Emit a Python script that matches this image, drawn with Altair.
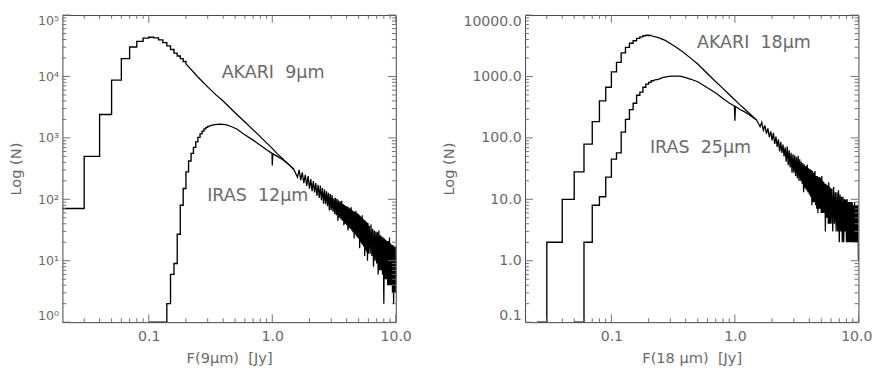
import altair as alt
import pandas as pd

# ---------------- data ----------------
# Left panel: AKARI 9um histogram, low-flux bins (bin left edges, counts)
a9_edge = [0.02, 0.03, 0.04, 0.05, 0.06, 0.07, 0.08, 0.09, 0.10, 0.11,
           0.12, 0.13, 0.14, 0.15, 0.16, 0.17, 0.18, 0.19, 0.20]
a9_count = [71, 500, 2400, 8700, 19500, 30200, 37300, 42100, 43500, 42500,
            39500, 35500, 31500, 27500, 24000, 21500, 19500, 17500, 16000]
# AKARI 9um, smooth part
a9_x = [0.20, 0.25, 0.30, 0.35, 0.40, 0.45, 0.50, 0.60, 0.70, 0.80, 0.90,
        1.00, 1.10, 1.20, 1.30, 1.40, 1.50]
a9_n = [16000, 9800, 6760, 5010, 3980, 3160, 2570, 1820, 1350, 1050, 830,
        676, 550, 468, 398, 347, 302]
# IRAS 12um histogram, low-flux bins
i12_edge = [0.10, 0.14, 0.15, 0.16, 0.17, 0.18, 0.19, 0.20, 0.21, 0.22,
            0.23, 0.24, 0.25, 0.26, 0.27, 0.28, 0.29, 0.30, 0.31]
i12_count = [1, 2, 6, 9, 27, 80, 150, 280, 420, 560,
             700, 860, 1020, 1160, 1290, 1400, 1480, 1540, 1570]
# IRAS 12um smooth part
i12_x = [0.31, 0.34, 0.38, 0.42, 0.47, 0.52, 0.59, 0.70, 0.80, 0.90, 0.98,
         0.995, 1.0, 1.01, 1.10, 1.20, 1.30, 1.40, 1.50]
i12_n = [1570, 1650, 1680, 1640, 1520, 1380, 1150, 920, 760, 640, 570,
         560, 355, 550, 500, 450, 400, 350, 310]

# noisy tail (both surveys merged), 1.6 .. 10.0 Jy
tail_x = [1.60, 1.65, 1.70, 1.75, 1.80, 1.85, 1.90, 1.95, 2.00, 2.05,
          2.10, 2.15, 2.20, 2.25, 2.30, 2.35, 2.40, 2.45, 2.50, 2.55,
          2.60, 2.65, 2.70, 2.75, 2.80, 2.85, 2.90, 2.95, 3.00, 3.05,
          3.10, 3.15, 3.20, 3.25, 3.30, 3.35, 3.40, 3.45, 3.50, 3.55,
          3.60, 3.65, 3.70, 3.75, 3.80, 3.85, 3.90, 3.95, 4.00, 4.05,
          4.10, 4.15, 4.20, 4.25, 4.30, 4.35, 4.40, 4.45, 4.50, 4.55,
          4.60, 4.65, 4.70, 4.75, 4.80, 4.85, 4.90, 4.95, 5.00, 5.05,
          5.10, 5.15, 5.20, 5.25, 5.30, 5.35, 5.40, 5.45, 5.50, 5.55,
          5.60, 5.65, 5.70, 5.75, 5.80, 5.85, 5.90, 5.95, 6.00,
          6.1, 6.2, 6.3, 6.4, 6.5, 6.6, 6.7, 6.8, 6.9, 7.0,
          7.1, 7.2, 7.3, 7.4, 7.5, 7.6, 7.7, 7.8, 7.9, 8.0,
          8.1, 8.2, 8.3, 8.4, 8.5, 8.6, 8.7, 8.8, 8.9, 9.0,
          9.1, 9.2, 9.3, 9.4, 9.5, 9.6, 9.7, 9.8, 9.9, 10.0]
tail9_n = [228, 301, 205, 275, 184, 250, 165, 240, 149, 213,
           136, 198, 130, 184, 114, 173, 105, 167, 97, 153,
           85, 144, 83, 135, 77, 128, 66, 122, 67, 117,
           63, 104, 58, 106, 55, 101, 45, 96, 50, 92,
           47, 95, 45, 84, 38, 81, 40, 78, 38, 76,
           31, 74, 34, 71, 33, 74, 31, 66, 29, 64,
           23, 63, 27, 65, 25, 60, 24, 58, 23, 56,
           16, 54, 20, 51, 19, 55, 18, 48, 17, 46,
           12, 45, 15, 43, 14, 42, 10, 41, 13,
           37, 13, 39, 12, 33, 8, 31, 10, 30, 9,
           29, 6, 31, 7, 26, 7, 25, 6, 24, 2,
           23, 5, 22, 5, 21, 4, 21, 4, 24, 4,
           19, 4, 18, 3, 18, 2, 17, 3, 17, 3]

# Right panel: AKARI 18um
a18_edge = [0.025, 0.03, 0.04, 0.05, 0.06, 0.07, 0.08, 0.09, 0.10, 0.11,
            0.12, 0.13, 0.14, 0.15, 0.16, 0.17, 0.18, 0.19, 0.20, 0.21]
a18_count = [0.1, 2, 10, 28, 79, 184, 400, 667, 1190, 1700,
             2420, 2970, 3470, 3820, 4170, 4420, 4600, 4680, 4650, 4600]
a18_x = [0.21, 0.24, 0.27, 0.30, 0.33, 0.38, 0.44, 0.50, 0.59, 0.70, 0.80,
         0.90, 1.00, 1.10, 1.20, 1.30, 1.40, 1.50]
a18_n = [4600, 4300, 3900, 3450, 3050, 2500, 1970, 1600, 1150, 820, 640,
         510, 415, 345, 295, 255, 222, 195]
# IRAS 25um
i25_edge = [0.05, 0.06, 0.07, 0.08, 0.09, 0.10, 0.11, 0.12, 0.13, 0.14,
            0.15, 0.16, 0.17, 0.18, 0.19, 0.20, 0.21, 0.22]
i25_count = [0.1, 2, 8, 11, 23, 45, 57, 124, 200, 288,
             366, 494, 557, 667, 752, 800, 850, 870]
i25_x = [0.22, 0.24, 0.26, 0.29, 0.32, 0.36, 0.40, 0.44, 0.50, 0.59, 0.70,
         0.80, 0.90, 0.99, 1.0, 1.01, 1.10, 1.20, 1.30, 1.40, 1.50]
i25_n = [870, 900, 960, 1000, 1015, 1010, 960, 900, 820, 667, 540,
         437, 370, 330, 190, 325, 290, 265, 240, 215, 195]
tail18_n = [152, 179, 133, 159, 117, 143, 103, 128, 91, 121,
            80, 105, 71, 95, 60, 86, 57, 78, 50, 70,
            41, 72, 36, 63, 33, 57, 27, 54, 27, 52,
            24, 49, 22, 51, 20, 45, 20, 41, 18, 39,
            13, 37, 15, 35, 14, 37, 13, 32, 12, 31,
            11, 30, 8, 29, 9, 27, 9, 29, 8, 24,
            7, 24, 6, 23, 7, 23, 7, 22, 6, 24,
            6, 20, 6, 19, 6, 18, 3, 18, 5, 17,
            5, 17, 4, 19, 4, 16, 4, 15, 4,
            15, 3, 16, 4, 13, 3, 13, 3, 14, 2,
            12, 3, 11, 2, 11, 2, 10, 3, 10, 2,
            10, 2, 9, 2, 9, 2, 9, 2, 9, 2,
            8, 2, 9, 2, 8, 2, 8, 2, 8, 1]

# axis ticks
x_major = [0.1, 1.0, 10.0]
x_minor = [m * d for d in (0.01, 0.1, 1.0) for m in range(2, 10) if m * d > 0.021]
yl_major = [1, 10, 100, 1000, 10000, 100000]
yl_minor = [m * d for d in (1, 10, 100, 1000, 10000) for m in range(2, 10)]
yr_major = [0.1, 1, 10, 100, 1000, 10000]
yr_minor = [m * d for d in (0.1, 1, 10, 100, 1000) for m in range(2, 10)]

# annotations
left_text = ["AKARI\u00a0 9\u03bcm", "IRAS\u00a0 12\u03bcm"]
right_text = ["AKARI\u00a0 18\u03bcm", "IRAS\u00a0 25\u03bcm"]

# ---------------- chart ----------------
W, H = 343, 316
FONT = "DejaVu Sans"
TXT = "#6a6a6a"
TICK = "#707070"
MAJ, MIN = 8, 4


def frame(series):
    rows = []
    for name, xs, ns in series:
        for x, n in zip(xs, ns):
            rows.append({"x": x, "n": n, "s": name})
    return pd.DataFrame(rows)


def panel(step_series, line_series, y_domain, y_major, y_minor, y_label_kw,
          x_title, texts, text_x, text_y, flush_off):
    xs = alt.Scale(type="log", domain=[0.02, 10.0], nice=False)
    ys = alt.Scale(type="log", domain=y_domain, nice=False)
    xaxis = alt.Axis(values=x_major, format=".1f", title=x_title, ticks=False,
                     domain=False, grid=False, labelFlush=True,
                     labelFlushOffset=flush_off, labelPadding=8,
                     titlePadding=8, labelFontSize=14.5, titleFontSize=15)
    yaxis = alt.Axis(values=y_major, title="Log (N)", ticks=False,
                     domain=False, grid=False, labelFlush=True,
                     labelPadding=4, titleFontSize=15, **y_label_kw)

    def X(f):
        return alt.X(f, scale=xs, axis=xaxis)

    def Y(f):
        return alt.Y(f, scale=ys, axis=yaxis)

    steps = alt.Chart(frame(step_series)).mark_line(
        interpolate="step-after", color="black", strokeWidth=1.4, clip=True
    ).encode(x=X("x:Q"), y=Y("n:Q"), detail="s:N")
    lines = alt.Chart(frame(line_series)).mark_line(
        color="black", strokeWidth=1.3, clip=True
    ).encode(x=X("x:Q"), y=Y("n:Q"), detail="s:N")

    layers = [steps, lines]
    for vals, size in ((x_major, MAJ), (x_minor, MIN)):
        d = pd.DataFrame({"v": vals})
        layers.append(alt.Chart(d).mark_rule(color=TICK, strokeWidth=1).encode(
            x=X("v:Q"), y=alt.value(H), y2=alt.value(H - size)))
        layers.append(alt.Chart(d).mark_rule(color=TICK, strokeWidth=1).encode(
            x=X("v:Q"), y=alt.value(0), y2=alt.value(size)))
    for vals, size in ((y_major, MAJ), (y_minor, MIN)):
        d = pd.DataFrame({"v": vals})
        layers.append(alt.Chart(d).mark_rule(color=TICK, strokeWidth=1).encode(
            y=Y("v:Q"), x=alt.value(0), x2=alt.value(size)))
        layers.append(alt.Chart(d).mark_rule(color=TICK, strokeWidth=1).encode(
            y=Y("v:Q"), x=alt.value(W), x2=alt.value(W - size)))

    tdf = pd.DataFrame({"t": texts, "x": text_x, "y": text_y})
    layers.append(alt.Chart(tdf).mark_text(
        align="left", baseline="alphabetic", font=FONT, fontSize=18, color=TXT
    ).encode(x=X("x:Q"), y=Y("y:Q"), text="t:N"))
    return alt.layer(*layers).properties(width=W, height=H)


left = panel(
    [("a9", a9_edge, a9_count), ("i12", i12_edge, i12_count)],
    [("a9", a9_x + tail_x, a9_n + tail9_n), ("i12", i12_x, i12_n)],
    [1, 100000], yl_major, yl_minor,
    {"labelFontSize": 13, "titlePadding": 14,
     "labelExpr": "'10' + ['\u2070','\u00b9','\u00b2','\u00b3','\u2074','\u2075'][round(log(datum.value)/LN10)]"},
    "F(9\u03bcm)\u00a0 [Jy]", left_text, [0.389, 0.297], [9500, 95], 16)

right = panel(
    [("a18", a18_edge, a18_count), ("i25", i25_edge, i25_count)],
    [("a18", a18_x + tail_x, a18_n + tail18_n), ("i25", i25_x, i25_n)],
    [0.1, 10000], yr_major, yr_minor,
    {"format": ".1f", "labelFontSize": 14.5, "titlePadding": 7},
    "F(18\u00a0\u03bcm)\u00a0 [Jy]", right_text, [0.493, 0.205], [2900, 57], 14)

chart = alt.hconcat(left, right, spacing=29).configure_view(
    stroke="#404040", strokeWidth=1
).configure_axis(
    labelFont=FONT, titleFont=FONT, labelColor=TXT, titleColor=TXT,
    titleFontWeight="normal"
).properties(padding=0, background="white")

chart.save("out.html", embed_options={"renderer": "svg", "actions": False})
